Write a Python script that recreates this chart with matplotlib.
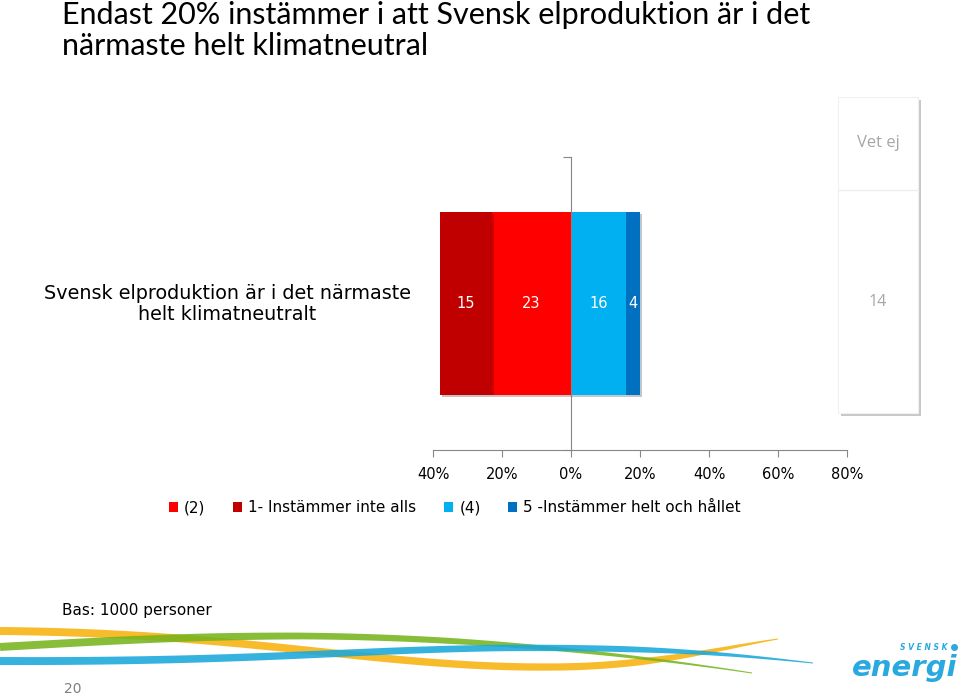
import matplotlib
matplotlib.use("Agg")
import numpy as np
import matplotlib.pyplot as plt
import matplotlib.patheffects as pe
from matplotlib.patches import Rectangle, Polygon, Patch

# data
category = "Svensk elproduktion är i det närmaste\nhelt klimatneutralt"
series_names = ["1- Instämmer inte alls", "(2)", "(4)", "5 -Instämmer helt och hållet"]
series_values = [15, 23, 16, 4]
series_colors = ["#C00000", "#FF0000", "#00B0F0", "#0070C0"]
legend_order = [1, 0, 2, 3]
vet_ej = 14
xticks = [-40, -20, 0, 20, 40, 60, 80]
xtick_labels = ["40%", "20%", "0%", "20%", "40%", "60%", "80%"]

W, H = 960, 696
fig = plt.figure(figsize=(W / 100, H / 100), dpi=100)
fig.patch.set_facecolor("white")

# decoration layer in pixel coordinates
deco = fig.add_axes([0, 0, 1, 1])
deco.set_xlim(0, W)
deco.set_ylim(H, 0)
deco.axis("off")


def swoosh(ax, segments, widths, color):
    # centerline from cubic bezier segments, band width tapering along it
    t = np.linspace(0, 1, 80)[:, None]
    pts = []
    for p0, p1, p2, p3 in segments:
        p0, p1, p2, p3 = map(np.array, (p0, p1, p2, p3))
        pts.append((1 - t) ** 3 * p0 + 3 * (1 - t) ** 2 * t * p1 + 3 * (1 - t) * t ** 2 * p2 + t ** 3 * p3)
    c = np.vstack(pts)
    d = np.gradient(c, axis=0)
    n = np.column_stack([-d[:, 1], d[:, 0]])
    n /= np.linalg.norm(n, axis=1)[:, None]
    s = np.linspace(0, 1, len(c))
    w = np.interp(s, np.linspace(0, 1, len(widths)), widths)[:, None] / 2
    poly = np.vstack([c + n * w, (c - n * w)[::-1]])
    ax.add_patch(Polygon(poly, closed=True, facecolor=color, edgecolor="none", alpha=0.88))


swoosh(deco, [((0, 631), (250, 633), (380, 668), (550, 667)),
              ((550, 667), (650, 667), (720, 648), (778, 639))], [8, 7.5, 7, 1], "#F7B20F")
swoosh(deco, [((0, 647), (120, 640), (200, 636), (300, 636)),
              ((300, 636), (450, 637), (600, 650), (752, 673))], [8, 7.5, 6, 1], "#76B41C")
swoosh(deco, [((0, 661), (250, 662), (350, 650), (500, 648)),
              ((500, 648), (650, 647), (720, 653), (813, 663))], [8, 7, 6, 1], "#1AA8DB")

# Vet ej panel with shadow
deco.add_patch(Rectangle((841, 100), 80, 316, facecolor="#c8c8c8", edgecolor="none"))
deco.add_patch(Rectangle((838, 97), 80, 316, facecolor="white", edgecolor="#f0f0f0", lw=0.8))
deco.plot([838, 918], [190, 190], color="#eeeeee", lw=1)
deco.text(878, 143, "Vet ej", ha="center", va="center", color="#a6a6a6",
          fontsize=12, family="Open Sans")
deco.text(878, 302, str(vet_ej), ha="center", va="center", color="#a6a6a6",
          fontsize=11.5, family="Open Sans")

# title and footer
fig.text(62 / W, 1 - 15 / H, "Endast 20% instämmer i att Svensk elproduktion är i det",
         ha="left", va="center", fontsize=22, family="Lato")
fig.text(62 / W, 1 - 46 / H, "närmaste helt klimatneutral",
         ha="left", va="center", fontsize=22, family="Lato")
fig.text(62 / W, 1 - 611 / H, "Bas: 1000 personer", ha="left", va="center", fontsize=11)
fig.text(64 / W, 1 - 689 / H, "20", ha="left", va="center", fontsize=10, color="#7f7f7f")
fig.text(948 / W, 1 - 647 / H, "S V E N S K", ha="right", va="center", fontsize=5.5,
         color="#29A9E0", fontweight="bold", style="italic")
deco.plot([954], [647], "o", color="#29A9E0", ms=4)
fig.text(957 / W, 1 - 668 / H, "energi", ha="right", va="center", fontsize=21,
         color="#29A9E0", fontweight="heavy", style="italic", family="DejaVu Sans")

# main chart
ax = fig.add_axes([433 / W, 1 - 450 / H, 414 / W, 293 / H])
ax.set_xlim(-40, 80)
ax.set_ylim(-0.5, 0.5)
ax.patch.set_alpha(0)

shadow = [pe.SimplePatchShadow(offset=(1.5, -1.5), alpha=0.25), pe.Normal()]
# disagree side, stacked from zero to the left: (2) then 1-
left_edge = 0
for i in [1, 0]:
    val = series_values[i]
    b = ax.barh(0, -val, left=left_edge, height=0.625, color=series_colors[i], zorder=2)
    b[0].set_path_effects(shadow)
    ax.text(left_edge - val / 2, 0, str(val), ha="center", va="center", color="white",
            fontsize=10.5, zorder=3)
    left_edge -= val
# agree side, stacked to the right: (4) then 5
right_edge = 0
for i in [2, 3]:
    val = series_values[i]
    b = ax.barh(0, val, left=right_edge, height=0.625, color=series_colors[i], zorder=2)
    b[0].set_path_effects(shadow)
    ax.text(right_edge + val / 2, 0, str(val), ha="center", va="center", color="white",
            fontsize=10.5, zorder=3)
    right_edge += val

for s in ["top", "right"]:
    ax.spines[s].set_visible(False)
ax.spines["left"].set_position(("data", 0))
ax.spines["left"].set_color("#868686")
ax.spines["bottom"].set_color("#868686")
ax.spines["left"].set_zorder(4)
ax.set_yticks([-0.5, 0.5])
ax.set_yticklabels([])
ax.tick_params(axis="y", length=6, color="#868686")
ax.set_xticks(xticks)
ax.set_xticklabels(xtick_labels, fontsize=10.5)
ax.tick_params(axis="x", length=5, color="#868686", pad=7)

fig.text(227 / W, 1 - 304 / H, category, ha="center", va="center", fontsize=13.8,
         linespacing=1.1)

handles = [Patch(facecolor=series_colors[i], label=series_names[i]) for i in legend_order]
fig.legend(handles=handles, loc="center", bbox_to_anchor=(455 / W, 1 - 508 / H), ncol=4,
           frameon=False, fontsize=11, handlelength=0.6, handleheight=0.6,
           handletextpad=0.4, columnspacing=1.8)

fig.savefig("out.png", dpi=100)
